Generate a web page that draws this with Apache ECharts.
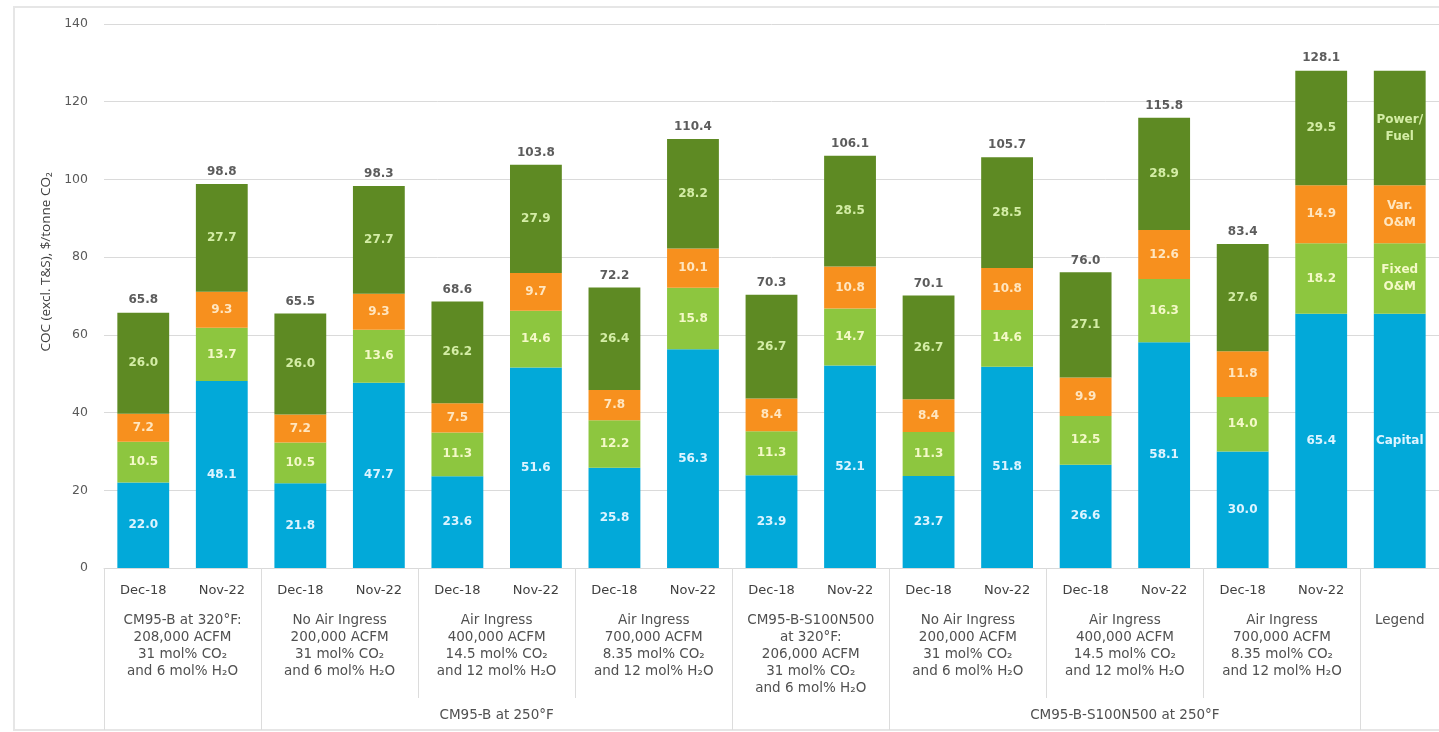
<!DOCTYPE html>
<html>
<head>
<meta charset="utf-8">
<style>
html,body{margin:0;padding:0;background:#fff;}
#chart{width:1439px;height:732px;}
</style>
<script src="https://cdn.jsdelivr.net/npm/echarts@6/dist/echarts.min.js"></script>
</head>
<body>
<div id="chart"></div>
<script>
// ---- data ----
const categories = ['Dec-18','Nov-22','Dec-18','Nov-22','Dec-18','Nov-22','Dec-18','Nov-22',
                    'Dec-18','Nov-22','Dec-18','Nov-22','Dec-18','Nov-22','Dec-18','Nov-22',''];
const capital = [22.0,48.1,21.8,47.7,23.6,51.6,25.8,56.3,23.9,52.1,23.7,51.8,26.6,58.1,30.0,65.4,65.4];
const fixedOM = [10.5,13.7,10.5,13.6,11.3,14.6,12.2,15.8,11.3,14.7,11.3,14.6,12.5,16.3,14.0,18.2,18.2];
const varOM   = [7.2,9.3,7.2,9.3,7.5,9.7,7.8,10.1,8.4,10.8,8.4,10.8,9.9,12.6,11.8,14.9,14.9];
const power   = [26.0,27.7,26.0,27.7,26.2,27.9,26.4,28.2,26.7,28.5,26.7,28.5,27.1,28.9,27.6,29.5,29.5];
const totals  = [65.8,98.8,65.5,98.3,68.6,103.8,72.2,110.4,70.3,106.1,70.1,105.7,76.0,115.8,83.4,128.1,null];
const legendNames = ['Capital','Fixed\nO&M','Var.\nO&M','Power/\nFuel'];
const groupLabels = [
  'CM95-B at 320°F:\n208,000 ACFM\n31 mol% CO₂\nand 6 mol% H₂O',
  'No Air Ingress\n200,000 ACFM\n31 mol% CO₂\nand 6 mol% H₂O',
  'Air Ingress\n400,000 ACFM\n14.5 mol% CO₂\nand 12 mol% H₂O',
  'Air Ingress\n700,000 ACFM\n8.35 mol% CO₂\nand 12 mol% H₂O',
  'CM95-B-S100N500\nat 320°F:\n206,000 ACFM\n31 mol% CO₂\nand 6 mol% H₂O',
  'No Air Ingress\n200,000 ACFM\n31 mol% CO₂\nand 6 mol% H₂O',
  'Air Ingress\n400,000 ACFM\n14.5 mol% CO₂\nand 12 mol% H₂O',
  'Air Ingress\n700,000 ACFM\n8.35 mol% CO₂\nand 12 mol% H₂O',
  'Legend'
];
const groupSizes = [2,2,2,2,2,2,2,2,1];
const superLabels = ['CM95-B at 250°F','CM95-B-S100N500 at 250°F'];
const superGroups = [[1,3],[5,7]];   // group index ranges
const yTicks = [0,20,40,60,80,100,120,140];

// ---- derived positions on a 0..N category-unit scale ----
const N = categories.length;
const bounds = [0];
groupSizes.forEach(s => bounds.push(bounds[bounds.length-1] + s));
const groupCenters = groupSizes.map((s,i) => bounds[i] + s/2);
const shortSeps = bounds.slice(0, bounds.length-1);
const superBounds = new Set([0]);
superGroups.forEach(([a,b]) => { superBounds.add(bounds[a]); superBounds.add(bounds[b+1]); });
superBounds.add(bounds[0]); superBounds.add(bounds[1]);
superBounds.add(bounds[bounds.length-2]);
const longSeps = Array.from(superBounds).sort((a,b)=>a-b);
const superCenters = superGroups.map(([a,b]) => (bounds[a] + bounds[b+1]) / 2);

const FONT = 'DejaVu Sans';
const colors = ['#02A9D9','#8DC63F','#F7901E','#5E8A23'];
const txtColors = ['#DDF4FF','#F4F9C8','#FFE6C0','#D4EDA6'];
const seriesData = [capital, fixedOM, varOM, power];
const seriesNames = ['Capital','Fixed O&M','Var. O&M','Power/Fuel'];

function barSeries(k){
  return {
    name: seriesNames[k], type:'bar', stack:'coc', barWidth:'66%',
    xAxisIndex:0, yAxisIndex:0,
    data: seriesData[k],
    itemStyle:{color:colors[k]},
    label:{
      show:true, position:'inside', color:txtColors[k],
      fontFamily:FONT, fontSize:12, fontWeight:'bold', lineHeight:17,
      formatter: p => p.dataIndex === N-1 ? legendNames[k] : p.value.toFixed(1)
    },
    silent:true
  };
}

const valueAxisBase = {
  type:'value', min:0, max:N, position:'bottom', gridIndex:0,
  axisLine:{show:false}, splitLine:{show:false}
};

const option = {
  animation:false,
  backgroundColor:'#fff',
  grid:{left:104, top:24, width:1338, height:544},
  graphic:[{
    type:'rect', silent:true, z:-10,
    shape:{x:14, y:7, width:1440, height:723},
    style:{fill:null, stroke:'#e6e6e6', lineWidth:2}
  }],
  xAxis:[
    {
      type:'category', data:categories, position:'bottom',
      axisLine:{show:true, lineStyle:{color:'#d9d9d9', width:1}},
      axisTick:{show:false},
      axisLabel:{color:'#404040', fontFamily:FONT, fontSize:13, margin:16, interval:0}
    },
    Object.assign({}, valueAxisBase, {
      axisTick:{show:true, customValues:shortSeps, length:130, inside:false, lineStyle:{color:'#dcdcdc'}},
      axisLabel:{show:false}
    }),
    Object.assign({}, valueAxisBase, {
      axisTick:{show:true, customValues:longSeps, length:162, inside:false, lineStyle:{color:'#dcdcdc'}},
      axisLabel:{show:false}
    }),
    Object.assign({}, valueAxisBase, {
      axisTick:{show:false},
      axisLabel:{
        show:true, customValues:groupCenters, margin:44, lineHeight:17,
        color:'#505050', fontFamily:FONT, fontSize:13.5, align:'center', verticalAlign:'top',
        formatter: v => { const i = groupCenters.indexOf(v); return i >= 0 ? groupLabels[i] : ''; }
      }
    }),
    Object.assign({}, valueAxisBase, {
      axisTick:{show:false},
      axisLabel:{
        show:true, customValues:superCenters, margin:140,
        color:'#505050', fontFamily:FONT, fontSize:13.5, align:'center', verticalAlign:'top',
        formatter: v => { const i = superCenters.indexOf(v); return i >= 0 ? superLabels[i] : ''; }
      }
    })
  ],
  yAxis:[{
    type:'value', min:yTicks[0], max:yTicks[yTicks.length-1], interval:yTicks[1]-yTicks[0],
    axisLine:{show:false}, axisTick:{show:false},
    splitLine:{lineStyle:{color:'#dadada', width:1}},
    axisLabel:{color:'#595959', fontFamily:FONT, fontSize:12.5, margin:16},
    name:'COC (excl. T&S), $/tonne CO₂', nameLocation:'middle', nameGap:46, nameRotate:90,
    nameTextStyle:{color:'#404040', fontFamily:'Open Sans', fontSize:13.5, padding:[0,0,0,68]}
  }],
  series:[
    barSeries(0), barSeries(1), barSeries(2), barSeries(3),
    {
      name:'Total', type:'scatter', xAxisIndex:0, yAxisIndex:0,
      data: totals, symbolSize:0, silent:true,
      label:{
        show:true, position:'top', distance:6, color:'#333333',
        fontFamily:FONT, fontSize:12, fontWeight:'bold',
        formatter: p => p.value == null ? '' : p.value.toFixed(1)
      }
    }
  ]
};

const chart = echarts.init(document.getElementById('chart'), null, {renderer:'canvas'});
chart.setOption(option);
</script>
</body>
</html>
